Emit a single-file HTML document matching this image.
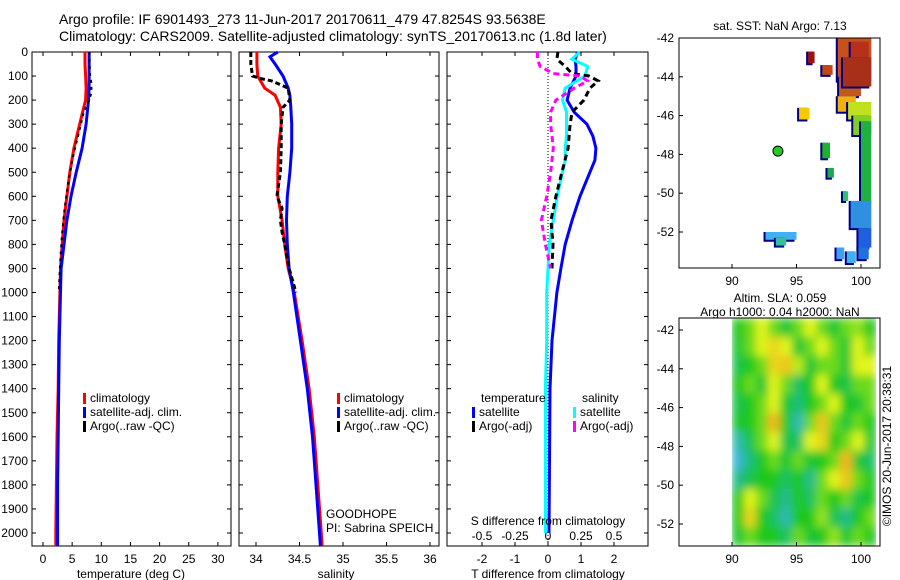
<!DOCTYPE html>
<html><head><meta charset="utf-8"><style>
body{margin:0;background:#fff;}
svg{display:block;font-family:"Liberation Sans",sans-serif;}
text{fill:#000;}
</style></head><body>
<svg id="fig" width="900" height="580" viewBox="0 0 900 580" xmlns="http://www.w3.org/2000/svg">
<defs>
<filter id="blur" x="0" y="0" width="1" height="1"><feGaussianBlur stdDeviation="4.5"/></filter>
<clipPath id="clipMap2"><rect x="732" y="318" width="144" height="228"/></clipPath>
</defs>
<text x="59" y="24" font-size="14">Argo profile: IF 6901493_273 11-Jun-2017 20170611_479 47.8254S 93.5638E</text>
<text x="59" y="41" font-size="14">Climatology: CARS2009. Satellite-adjusted climatology: synTS_20170613.nc (1.8d later)</text>
<g id="g"></g>
</svg>
<script>
// ---- data ----
const depths = [0,50,100,150,200,250,300,400,500,600,700,800,900,1000,1200,1400,1600,1800,2000,2054];
const depthTicks = [0,100,200,300,400,500,600,700,800,900,1000,1100,1200,1300,1400,1500,1600,1700,1800,1900,2000];
const tempClim = [7.2,7.2,7.3,7.4,7.3,6.8,6.3,5.3,4.6,4.1,3.6,3.3,3.0,2.9,2.7,2.6,2.4,2.3,2.2,2.2];
const tempSat  = [7.9,7.9,7.9,7.9,7.8,7.6,7.4,6.7,5.7,4.8,4.1,3.6,3.1,3.0,2.8,2.7,2.6,2.5,2.5,2.5];
const argoDepths = [0,50,100,130,170,200,250,350,450,550,650,750,850,950,1000];
const tempArgo = [8.0,8.0,8.1,8.3,8.3,7.9,7.0,6.0,5.0,4.3,3.7,3.3,3.0,2.8,2.7];
const tempTicks = [0,5,10,15,20,25,30];
const salDepths = [0,20,50,100,150,180,230,300,400,500,600,700,800,900,1000,1200,1400,1600,1800,2000,2054];
const salClim = [34.01,34.01,34.01,34.02,34.10,34.22,34.28,34.29,34.26,34.25,34.25,34.30,34.33,34.37,34.44,34.53,34.61,34.67,34.71,34.75,34.76];
const salSat  = [34.25,34.16,34.22,34.31,34.37,34.39,34.40,34.41,34.41,34.39,34.36,34.35,34.36,34.38,34.43,34.51,34.59,34.65,34.69,34.73,34.74];
const salArgoDepths = [0,50,100,110,120,150,200,230,300,400,500,600,650,700,750,800,900,1000];
const salArgo = [33.94,33.94,33.96,34.05,34.18,34.37,34.39,34.31,34.29,34.29,34.28,34.24,34.30,34.28,34.30,34.33,34.38,34.46];
const salTicks = [34,34.5,35,35.5,36];
const diffDepths = [0,30,60,100,150,200,250,300,350,400,450,500,600,700,800,900,1000,1200,1400,2000];
const dTempSat = [0.9,0.82,0.85,0.85,0.67,0.58,0.79,1.18,1.36,1.45,1.42,1.27,0.97,0.73,0.52,0.39,0.27,0.12,0.06,0.03];
const dSalSat = [0.24,0.18,0.30,0.28,0.13,0.11,0.14,0.14,0.14,0.13,0.13,0.11,0.07,0.04,0.01,0.0,-0.01,-0.01,-0.02,-0.02];
const dArgoDepths = [0,30,60,90,100,120,150,200,250,300,400,500,600,700,800,900];
const dTempArgo = [0.3,0.27,0.52,0.73,1.24,1.52,1.27,1.09,0.73,0.67,0.61,0.42,0.24,0.09,0.15,0.12];
const dSalArgo = [-0.08,-0.08,-0.06,0.04,0.24,0.30,0.20,0.06,0.02,0.02,0.04,0.02,-0.01,-0.05,-0.02,0.02];
const tDiffTicks = [-2,-1,0,1,2];
const sDiffTicks = [-0.5,-0.25,0,0.25,0.5];
const lonTicks = [90,95,100];
const latTicks = [-42,-44,-46,-48,-50,-52];
// SST patches: lon0, lat0, lon1, lat1, colour
const sstLon0 = [98.2,99.2,98.3,97.0,98.2,99.0,99.4,100.0,95.2,95.9,97.0,97.4,98.6,99.2,99.8,92.6,93.4,98.1,98.9,99.8,98.6];
const sstLat0 = [-42.0,-42.2,-44.0,-43.4,-45.0,-45.3,-46.0,-46.3,-45.6,-42.7,-47.4,-48.7,-49.9,-50.4,-51.8,-52.0,-52.3,-52.8,-53.0,-52.8,-43.0];
const sstLon1 = [100.8,100.6,100.0,97.8,99.6,100.8,100.8,100.8,96.0,96.4,97.6,97.9,99.0,100.8,100.8,95.0,94.2,98.7,99.6,100.6,100.8];
const sstLat1 = [-44.2,-43.2,-45.0,-43.9,-45.8,-46.2,-47.0,-50.5,-46.2,-43.3,-48.2,-49.2,-50.4,-51.8,-52.8,-52.4,-52.7,-53.4,-53.6,-53.4,-44.5];
const sstCol = ['#c8501a','#b8301a','#c05a18','#c04818','#f0b010','#c0e020','#80d020','#20b040','#f8c800','#a01010','#20b030','#20a850','#30c070','#3090e0','#2060e0','#40b0f0','#30c0a0','#40a0f0','#40b0f0','#2070e0','#a83018'];
const argoLon = [93.56];
const argoLat = [-47.83];
// altimetry SLA grid (rows top→bottom, lon 90..101.5), 0=low(cyan) 1=high(orange)
const slaGrid = [
 [0.5,0.6,0.75,0.6,0.45,0.6,0.75,0.6,0.45,0.6,0.65,0.5],
 [0.45,0.6,0.75,0.85,0.75,0.45,0.6,0.75,0.6,0.45,0.75,0.6],
 [0.4,0.5,0.6,0.85,0.9,0.7,0.45,0.6,0.6,0.45,0.75,0.75],
 [0.5,0.6,0.45,0.75,0.6,0.35,0.5,0.75,0.5,0.4,0.6,0.6],
 [0.4,0.5,0.6,0.75,0.45,0.3,0.5,0.6,0.75,0.5,0.45,0.6],
 [0.45,0.5,0.6,0.95,0.5,0.15,0.6,0.9,0.6,0.45,0.6,0.5],
 [0.15,0.4,0.6,0.75,0.4,0.35,0.75,0.85,0.5,0.6,0.75,0.45],
 [0.05,0.3,0.5,0.6,0.45,0.6,0.45,0.5,0.6,0.95,0.45,0.35],
 [0.25,0.4,0.5,0.5,0.35,0.5,0.25,0.6,0.75,0.9,0.6,0.5],
 [0.5,0.75,0.6,0.4,0.25,0.5,0.35,0.6,0.5,0.6,0.4,0.5],
 [0.5,0.85,0.5,0.35,0.15,0.5,0.5,0.65,0.4,0.25,0.5,0.6],
 [0.45,0.6,0.5,0.5,0.35,0.6,0.45,0.5,0.65,0.45,0.6,0.5]
];
// ---- drawing ----
const NS='http://www.w3.org/2000/svg';
const G=document.getElementById('g');
function mk(tag,attrs,parent){const e=document.createElementNS(NS,tag);for(const k in attrs)e.setAttribute(k,attrs[k]);(parent||G).appendChild(e);return e;}
function txt(x,y,s,size,anchor,parent){const t=mk('text',{x:x,y:y,'font-size':size||12,'text-anchor':anchor||'start'},parent);t.textContent=s;return t;}
const Y0=52,Y1=546;
const yD=d=>Y0+d*0.2405;
function axisBox(x0,x1,name){
  const r=mk('rect',{x:x0,y:Y0,width:x1-x0,height:Y1-Y0,fill:'none',stroke:'#000','stroke-width':1});
  
  
  depthTicks.forEach(d=>{const y=yD(d);mk('line',{x1:x0,y1:y,x2:x0+4,y2:y,stroke:'#000'});mk('line',{x1:x1,y1:y,x2:x1-4,y2:y,stroke:'#000'});});
}
function line(xs,ys,sx,color,w,dash,name){
  const pts=xs.map((v,i)=>sx(v).toFixed(1)+','+yD(ys[i]).toFixed(1)).join(' ');
  const p=mk('polyline',{points:pts,fill:'none',stroke:color,'stroke-width':w});
  if(dash)p.setAttribute('stroke-dasharray',dash);
  
  
}
function legend(x,y,items,g){
  items.forEach((it,i)=>{mk('rect',{x:x,y:y+i*14-9,width:3,height:11,fill:it[1]},g);txt(x+7,y+i*14,it[0],12,'start',g);});
}
// panel 1 temperature
const xT=v=>43+v*5.83;
axisBox(32,231,'temperature-axes');
depthTicks.forEach(d=>{txt(28,yD(d)+4,String(d),12,'end');});
tempTicks.forEach(v=>{const x=xT(v);mk('line',{x1:x,y1:Y0,x2:x,y2:Y0+4,stroke:'#000'});mk('line',{x1:x,y1:Y1,x2:x,y2:Y1-4,stroke:'#000'});txt(x,563,String(v),12,'middle');});
txt(131,578,'temperature (deg C)',12,'middle');
line(tempClim,depths,xT,'#f00',3,null,'temp-climatology-line');
line(tempSat,depths,xT,'#00f',3,null,'temp-satellite-line');
line(tempArgo,argoDepths,xT,'#000',2,'3,4','temp-argo-line');
const lg1=mk('g',{});
legend(83,402,[['climatology','#f00'],['satellite-adj. clim.','#00f'],['Argo(..raw -QC)','#000']],lg1);
// panel 2 salinity
const xS=v=>256+(v-34)*87;
axisBox(239,439,'salinity-axes');
salTicks.forEach(v=>{const x=xS(v);mk('line',{x1:x,y1:Y0,x2:x,y2:Y0+4,stroke:'#000'});mk('line',{x1:x,y1:Y1,x2:x,y2:Y1-4,stroke:'#000'});txt(x,563,String(v),12,'middle');});
txt(336,578,'salinity',12,'middle');
line(salClim,salDepths,xS,'#f00',3,null,'sal-climatology-line');
line(salSat,salDepths,xS,'#00f',3,null,'sal-satellite-line');
line(salArgo,salArgoDepths,xS,'#000',3,'5,3','sal-argo-line');
const lg2=mk('g',{});
legend(337,402,[['climatology','#f00'],['satellite-adj. clim.','#00f'],['Argo(..raw -QC)','#000']],lg2);
txt(326,518,'GOODHOPE',12);
txt(326,532,'PI: Sabrina SPEICH',12);
// panel 3 differences
const xDT=v=>548+v*33;
const xDS=v=>548+v*132;
axisBox(447,648,'difference-axes');
mk('line',{x1:548,y1:Y0,x2:548,y2:Y1,stroke:'#000','stroke-dasharray':'1,2'});
tDiffTicks.forEach(v=>{const x=xDT(v);mk('line',{x1:x,y1:Y0,x2:x,y2:Y0+4,stroke:'#000'});mk('line',{x1:x,y1:Y1,x2:x,y2:Y1-4,stroke:'#000'});txt(x,563,String(v),12,'middle');});
sDiffTicks.forEach(v=>{txt(xDS(v),540,String(v),12,'middle');});
line(dTempSat,diffDepths,xDT,'#00f',3,null,'tdiff-satellite-line');
line(dSalSat,diffDepths,xDS,'#0ff',3,null,'sdiff-satellite-line');
line(dTempArgo,dArgoDepths,xDT,'#000',3,'6,4','tdiff-argo-line');
line(dSalArgo,dArgoDepths,xDS,'#f0f',3,'6,4','sdiff-argo-line');
txt(548,525,'S difference from climatology',12,'middle');
txt(548,578,'T difference from climatology',12,'middle');
const lg3=mk('g',{});
txt(481,402,'temperature',12,'start',lg3);txt(582,402,'salinity',12,'start',lg3);
legend(472,416,[['satellite','#00f'],['Argo(-adj)','#000']],lg3);
legend(573,416,[['satellite','#0ff'],['Argo(-adj)','#f0f']],lg3);
// maps
const xL=lon=>732+(lon-90)*12.9;
function mapAxes(y0,h,latAt42,name){
  const r=mk('rect',{x:679,y:y0,width:201,height:h,fill:'none',stroke:'#000'});
  
  
  lonTicks.forEach(v=>{const x=xL(v);mk('line',{x1:x,y1:y0+h,x2:x,y2:y0+h-4,stroke:'#000'});txt(x,y0+h+17,String(v),12,'middle');});
  latTicks.forEach(v=>{const y=latAt42+(-42-v)*19.4;mk('line',{x1:679,y1:y,x2:683,y2:y,stroke:'#000'});txt(674,y+4,String(v),12,'end');});
}
// map 1 SST
txt(780,30,'sat. SST: NaN Argo: 7.13',12,'middle');
const yM1=lat=>38+(-42-lat)*19.4;
const sg=mk('g',{});
sstLon0.forEach((l0,i)=>{
  const x0=xL(l0),x1=xL(sstLon1[i]),y0=yM1(sstLat0[i]),y1=yM1(sstLat1[i]);
  mk('rect',{x:x0-2,y:y0,width:x1-x0,height:y1-y0+2,fill:'#000080'},sg);
  const c=mk('rect',{x:x0,y:y0,width:x1-x0,height:y1-y0,fill:sstCol[i]},sg);
  
  
});
mapAxes(38,230,38,'sst-map-axes');
argoLon.forEach((lon,i)=>{const c=mk('circle',{cx:xL(lon),cy:yM1(argoLat[i]),r:5,fill:'#2c2',stroke:'#000','stroke-width':1});
  
  });
// map 2 SLA
txt(780,302,'Altim. SLA: 0.059',12,'middle');
txt(780,316,'Argo h1000: 0.04 h2000: NaN',12,'middle');
function slaCol(v){
  const stops=[[0,[60,180,230]],[0.3,[30,190,120]],[0.5,[30,200,30]],[0.75,[225,245,30]],[1,[245,165,30]]];
  for(let i=1;i<stops.length;i++){if(v<=stops[i][0]){const a=stops[i-1],b=stops[i],t=(v-a[0])/(b[0]-a[0]);
    return 'rgb('+a[1].map((c,k)=>Math.round(c+(b[1][k]-c)*t)).join(',')+')';}}
  return 'rgb(245,165,30)';
}
const hg=mk('g',{'clip-path':'url(#clipMap2)'});

const hb=mk('g',{filter:'url(#blur)'},hg);
mk('rect',{x:732,y:318,width:144,height:228,fill:'#2cc820'},hb);
const cw=144/slaGrid[0].length, ch=228/slaGrid.length;
slaGrid.forEach((row,r)=>row.forEach((v,c)=>{
  const cell=mk('rect',{x:732+c*cw,y:318+r*ch,width:cw+0.5,height:ch+0.5,fill:slaCol(v)},hb);
  
  
}));
mapAxes(318,228,330,'sla-map-axes');
const cp=txt(0,0,'©IMOS 20-Jun-2017 20:38:31',12,'middle');
cp.setAttribute('transform','translate(891,446) rotate(-90)');


</script>
</body></html>
